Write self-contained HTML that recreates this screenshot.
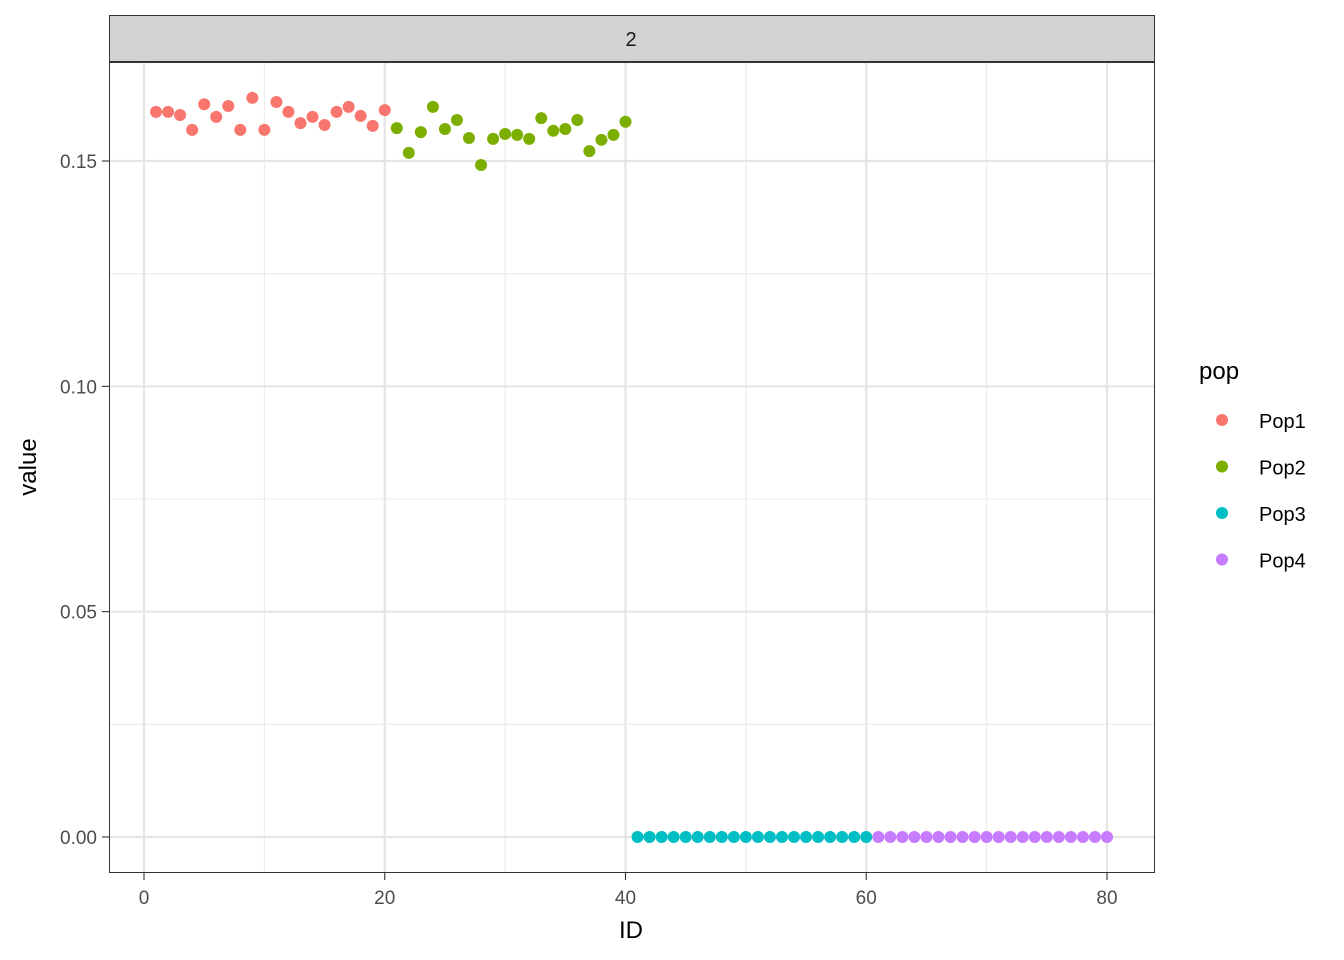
<!DOCTYPE html>
<html><head><meta charset="utf-8"><style>
body{margin:0;background:#fff}
svg{display:block;font-family:"Liberation Sans",Arial,sans-serif}
</style></head><body>
<svg id="chart" width="1344" height="960">
<rect x="0" y="0" width="1344" height="960" fill="#fff"/>
<g id="grid"></g>
<rect x="109.5" y="15.5" width="1045" height="46" fill="#d3d3d3" stroke="#333" stroke-width="1"/>
<text x="631" y="46" font-size="20" text-anchor="middle" fill="#1a1a1a">2</text>
<g id="points"></g>
<rect x="109.5" y="62.5" width="1045" height="810" fill="none" stroke="#333" stroke-width="1"/>
<g id="axes"></g>
<text x="631" y="938" font-size="24" text-anchor="middle" fill="#000">ID</text>
<text transform="translate(36,467) rotate(-90)" font-size="24" text-anchor="middle" fill="#000">value</text>
<g id="legend">
<text x="1199" y="379" font-size="24" fill="#000">pop</text>
</g>
</svg>
<script>
const popNames=["Pop1","Pop2","Pop3","Pop4"];
const popColors=["#F8766D","#7CAE00","#00BFC4","#C77CFF"];
const pop1Values=[0.1609,0.1609,0.1602,0.1569,0.1626,0.1598,0.1622,0.1569,0.1640,0.1569,0.1631,0.1609,0.1584,0.1598,0.1580,0.1609,0.1620,0.1600,0.1578,0.1613];
const pop2Values=[0.1573,0.1518,0.1564,0.1620,0.1571,0.1591,0.1551,0.1491,0.1549,0.1560,0.1558,0.1549,0.1595,0.1567,0.1571,0.1591,0.1522,0.1547,0.1558,0.1587];
const pop3Values=[0,0,0,0,0,0,0,0,0,0,0,0,0,0,0,0,0,0,0,0];
const pop4Values=[0,0,0,0,0,0,0,0,0,0,0,0,0,0,0,0,0,0,0,0];
const xTicks=[0,20,40,60,80];
const yTicks=[0,0.05,0.10,0.15];
const yTickLabels=["0.00","0.05","0.10","0.15"];
const NS="http://www.w3.org/2000/svg";
const X0=144,X1=1107,Y0=837,Y1=161;
function sx(v){return X0+(X1-X0)*v/80;}
function sy(v){return Y0+(Y1-Y0)*v/0.15;}
function mk(tag,attrs,parent){const e=document.createElementNS(NS,tag);for(const k in attrs)e.setAttribute(k,attrs[k]);parent.appendChild(e);return e;}
const grid=document.getElementById('grid');
mk('rect',{x:109,y:62,width:1046,height:811,fill:'#fff'},grid);
for(let i=0;i<xTicks.length-1;i++){const v=(xTicks[i]+xTicks[i+1])/2;const l=mk('line',{x1:sx(v),x2:sx(v),y1:62,y2:873,stroke:'#ebebeb','stroke-width':1.1},grid);

}
for(let i=0;i<yTicks.length-1;i++){const v=(yTicks[i]+yTicks[i+1])/2;const l=mk('line',{x1:109,x2:1155,y1:sy(v),y2:sy(v),stroke:'#ebebeb','stroke-width':1.1},grid);

}
xTicks.forEach(v=>{const l=mk('line',{x1:sx(v),x2:sx(v),y1:62,y2:873,stroke:'#e5e5e5','stroke-width':2.2},grid);

});
yTicks.forEach(v=>{const l=mk('line',{x1:109,x2:1155,y1:sy(v),y2:sy(v),stroke:'#e5e5e5','stroke-width':2.2},grid);

});
const pts=document.getElementById('points');
const series=[pop1Values,pop2Values,pop3Values,pop4Values];
series.forEach((vals,s)=>{vals.forEach((v,i)=>{const id=s*20+i+1;const c=mk('circle',{cx:sx(id),cy:sy(v),r:6,fill:popColors[s]},pts);

});});
const ax=document.getElementById('axes');
xTicks.forEach(v=>{mk('line',{x1:sx(v),x2:sx(v),y1:873,y2:880,stroke:'#333','stroke-width':1.1},ax);const t=mk('text',{x:sx(v),y:904,'font-size':19,'text-anchor':'middle',fill:'#4d4d4d'},ax);t.textContent=v;

});
yTicks.forEach((v,i)=>{mk('line',{x1:102,x2:109,y1:sy(v),y2:sy(v),stroke:'#333','stroke-width':1.1},ax);const t=mk('text',{x:97,y:sy(v)+7,'font-size':19,'text-anchor':'end',fill:'#4d4d4d'},ax);t.textContent=yTickLabels[i];

});
const lg=document.getElementById('legend');
popNames.forEach((n,i)=>{const y=420+i*46.5;const c=mk('circle',{cx:1222,cy:y,r:6,fill:popColors[i]},lg);


const t=mk('text',{x:1259,y:y+8,'font-size':20,fill:'#000'},lg);t.textContent=n;

});
</script>
</body></html>
